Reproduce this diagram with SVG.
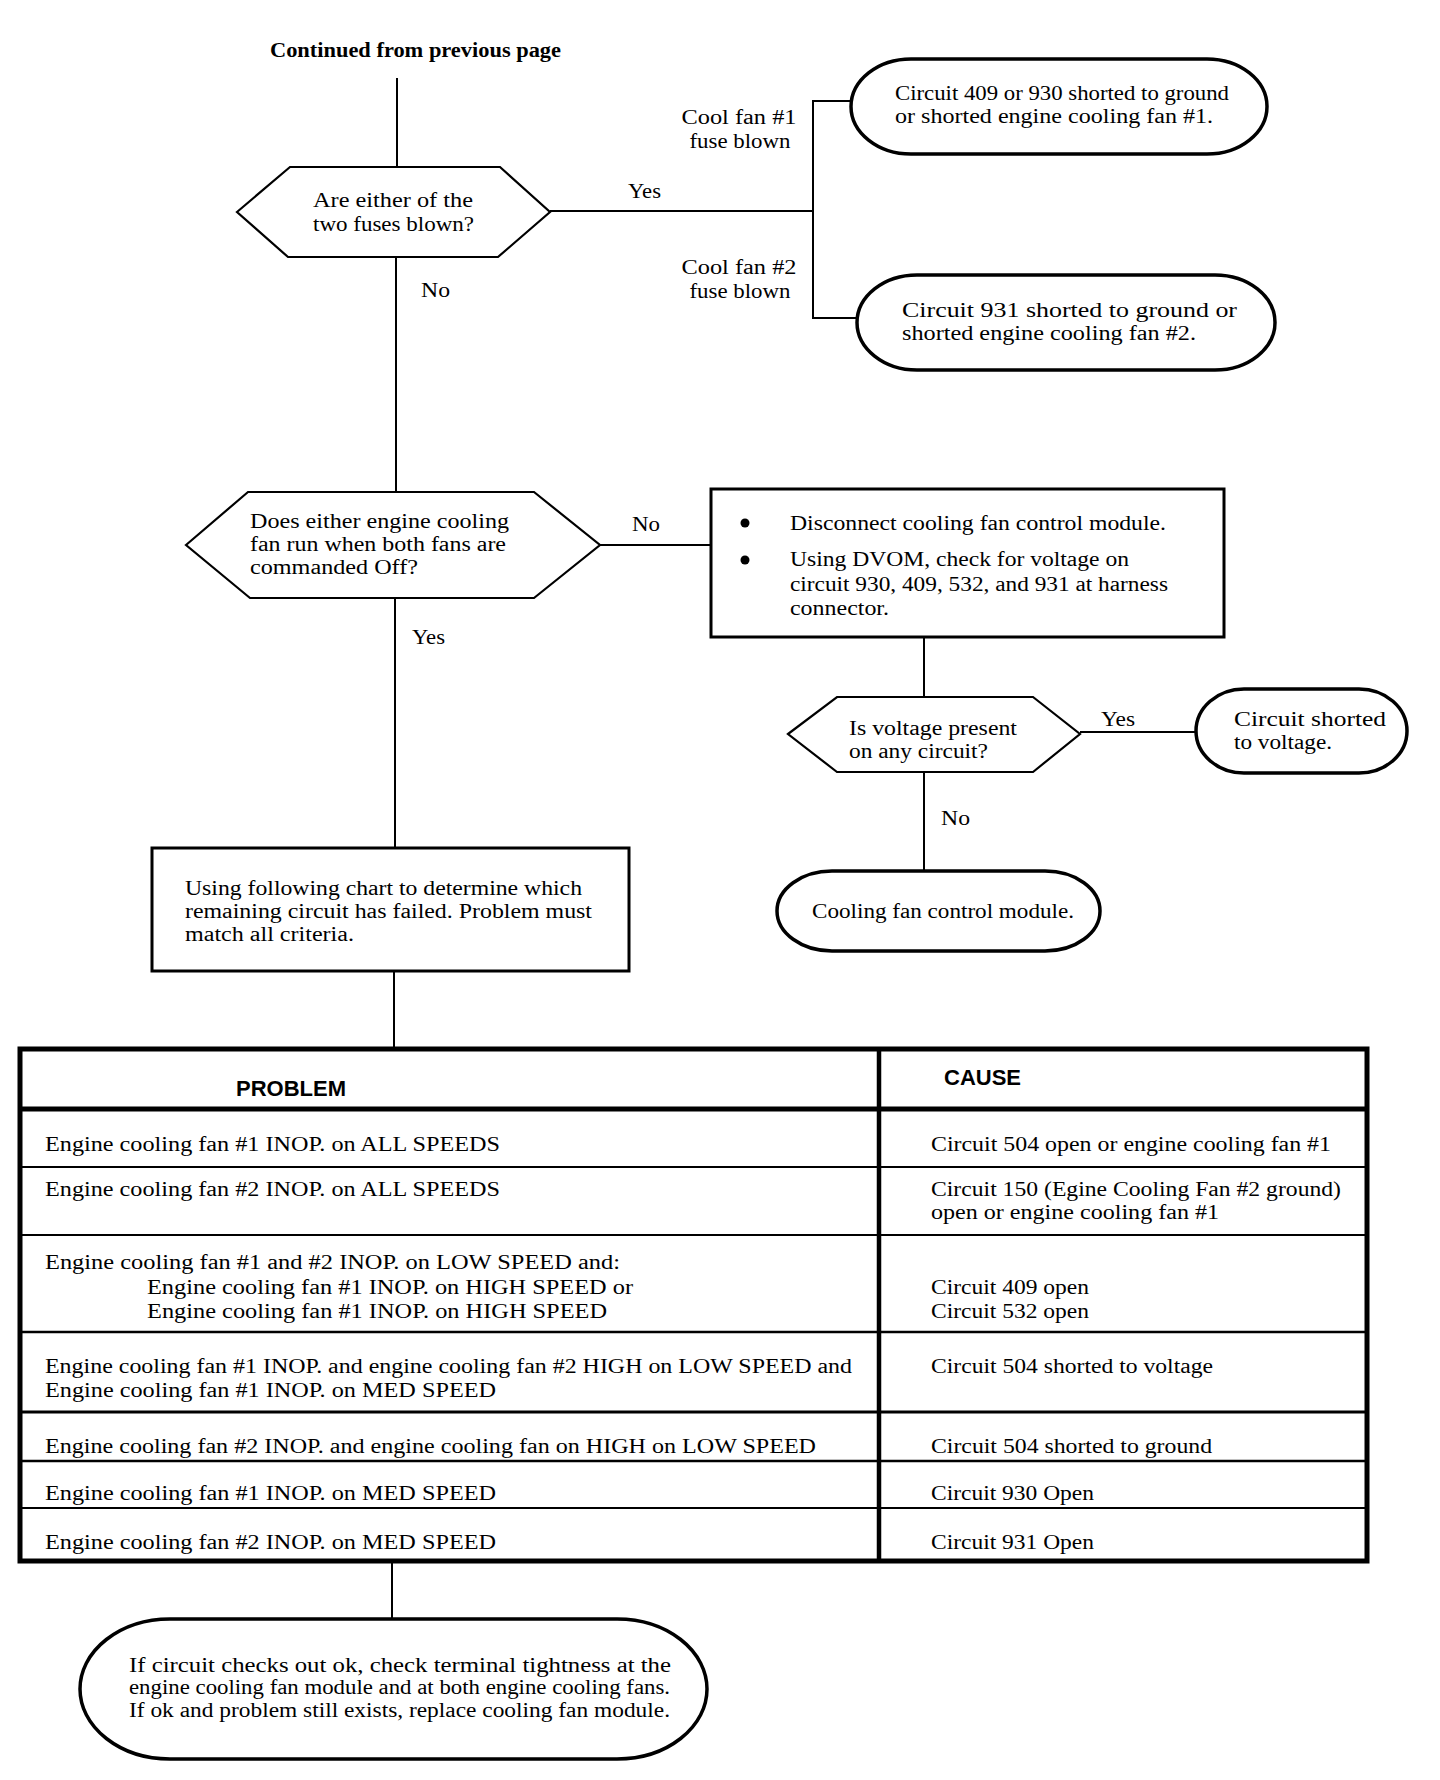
<svg xmlns="http://www.w3.org/2000/svg" width="1440" height="1780" viewBox="0 0 1440 1780">
<style>
  .t { font-family: "Liberation Serif", "Times New Roman", serif; font-size: 20px; fill: #000; }
  .tb { font-family: "Liberation Serif", "Times New Roman", serif; font-size: 20px; font-weight: bold; fill: #000; }
  .hd { font-family: "Liberation Sans", Arial, sans-serif; font-size: 22px; font-weight: bold; fill: #000; }
  .ln { stroke: #000; stroke-width: 2; fill: none; }
  .hex { stroke: #000; stroke-width: 2.2; fill: #fff; stroke-linejoin: miter; }
  .box { stroke: #000; stroke-width: 3; fill: #fff; }
  .oval { stroke: #000; stroke-width: 3.5; fill: #fff; }
  .tbl { stroke: #000; fill: none; }
</style>
<rect x="0" y="0" width="1440" height="1780" fill="#fff"/>

<g id="connectors">
  <line class="ln" x1="397" y1="78" x2="397" y2="167"/>
  <line class="ln" x1="396" y1="257" x2="396" y2="492"/>
  <line class="ln" x1="550" y1="211" x2="813" y2="211"/>
  <polyline class="ln" points="852,101 813,101 813,318 858,318"/>
  <line class="ln" x1="600" y1="545" x2="711" y2="545"/>
  <line class="ln" x1="395" y1="598" x2="395" y2="848"/>
  <line class="ln" x1="924" y1="637" x2="924" y2="697"/>
  <line class="ln" x1="1080" y1="732" x2="1196" y2="732"/>
  <line class="ln" x1="924" y1="772" x2="924" y2="871"/>
  <line class="ln" x1="394" y1="971" x2="394" y2="1049"/>
  <line class="ln" x1="392" y1="1561" x2="392" y2="1619"/>
  <text class="t" x="628" y="198" textLength="33" lengthAdjust="spacingAndGlyphs">Yes</text>
  <text class="t" x="421" y="297" textLength="29" lengthAdjust="spacingAndGlyphs">No</text>
  <text class="t" x="739" y="124" text-anchor="middle" textLength="115" lengthAdjust="spacingAndGlyphs">Cool fan #1</text>
  <text class="t" x="740" y="148" text-anchor="middle" textLength="101" lengthAdjust="spacingAndGlyphs">fuse blown</text>
  <text class="t" x="739" y="274" text-anchor="middle" textLength="115" lengthAdjust="spacingAndGlyphs">Cool fan #2</text>
  <text class="t" x="740" y="298" text-anchor="middle" textLength="101" lengthAdjust="spacingAndGlyphs">fuse blown</text>
  <text class="t" x="632" y="531" textLength="28" lengthAdjust="spacingAndGlyphs">No</text>
  <text class="t" x="412" y="644" textLength="33" lengthAdjust="spacingAndGlyphs">Yes</text>
  <text class="t" x="1101" y="726" textLength="34" lengthAdjust="spacingAndGlyphs">Yes</text>
  <text class="t" x="941" y="825" textLength="29" lengthAdjust="spacingAndGlyphs">No</text>
</g>

<g id="start">
  <text class="tb" x="270" y="57" textLength="291" lengthAdjust="spacingAndGlyphs">Continued from previous page</text>
</g>

<g id="q-fuses">
  <polygon class="hex" points="237,212 290,167 500,167 550,212 498,257 288,257"/>
  <text class="t" x="313" y="207" textLength="160" lengthAdjust="spacingAndGlyphs">Are either of the</text>
  <text class="t" x="313" y="231" textLength="161" lengthAdjust="spacingAndGlyphs">two fuses blown?</text>
</g>

<g id="r-fan1">
  <rect class="oval" x="851" y="59" width="416" height="95" rx="60" ry="47.5"/>
  <text class="t" x="895" y="100" textLength="334" lengthAdjust="spacingAndGlyphs">Circuit 409 or 930 shorted to ground</text>
  <text class="t" x="895" y="123" textLength="318" lengthAdjust="spacingAndGlyphs">or shorted engine cooling fan #1.</text>
</g>

<g id="r-fan2">
  <rect class="oval" x="857" y="275" width="418" height="95" rx="60" ry="47.5"/>
  <text class="t" x="902" y="317" textLength="335" lengthAdjust="spacingAndGlyphs">Circuit 931 shorted to ground or</text>
  <text class="t" x="902" y="340" textLength="294" lengthAdjust="spacingAndGlyphs">shorted engine cooling fan #2.</text>
</g>

<g id="q-run">
  <polygon class="hex" points="186,545 248,492 534,492 600,545 534,598 250,598"/>
  <text class="t" x="250" y="528" textLength="259" lengthAdjust="spacingAndGlyphs">Does either engine cooling</text>
  <text class="t" x="250" y="551" textLength="256" lengthAdjust="spacingAndGlyphs">fan run when both fans are</text>
  <text class="t" x="250" y="574" textLength="168" lengthAdjust="spacingAndGlyphs">commanded Off?</text>
</g>

<g id="step-disconnect">
  <rect class="box" x="711" y="489" width="513" height="148"/>
  <circle cx="745" cy="523" r="4.5" fill="#000"/>
  <circle cx="745" cy="560" r="4.5" fill="#000"/>
  <text class="t" x="790" y="530" textLength="376" lengthAdjust="spacingAndGlyphs">Disconnect cooling fan control module.</text>
  <text class="t" x="790" y="566" textLength="339" lengthAdjust="spacingAndGlyphs">Using DVOM, check for voltage on</text>
  <text class="t" x="790" y="591" textLength="378" lengthAdjust="spacingAndGlyphs">circuit 930, 409, 532, and 931 at harness</text>
  <text class="t" x="790" y="615" textLength="99" lengthAdjust="spacingAndGlyphs">connector.</text>
</g>

<g id="q-voltage">
  <polygon class="hex" points="788,734 837,697 1033,697 1080,734 1033,772 837,772"/>
  <text class="t" x="849" y="735" textLength="168" lengthAdjust="spacingAndGlyphs">Is voltage present</text>
  <text class="t" x="849" y="758" textLength="139" lengthAdjust="spacingAndGlyphs">on any circuit?</text>
</g>

<g id="r-shorted-voltage">
  <rect class="oval" x="1196" y="689" width="211" height="84" rx="48" ry="42"/>
  <text class="t" x="1234" y="726" textLength="152" lengthAdjust="spacingAndGlyphs">Circuit  shorted</text>
  <text class="t" x="1234" y="749" textLength="98" lengthAdjust="spacingAndGlyphs">to voltage.</text>
</g>

<g id="r-module">
  <rect class="oval" x="777" y="871" width="323" height="80" rx="55" ry="40"/>
  <text class="t" x="812" y="918" textLength="262" lengthAdjust="spacingAndGlyphs">Cooling fan control module.</text>
</g>

<g id="step-chart">
  <rect class="box" x="152" y="848" width="477" height="123"/>
  <text class="t" x="185" y="895" textLength="397" lengthAdjust="spacingAndGlyphs">Using following chart to determine which</text>
  <text class="t" x="185" y="918" textLength="407" lengthAdjust="spacingAndGlyphs">remaining circuit has failed. Problem must</text>
  <text class="t" x="185" y="941" textLength="169" lengthAdjust="spacingAndGlyphs">match all criteria.</text>
</g>

<g id="table">
  <rect class="tbl" x="20" y="1049" width="1347" height="512" stroke-width="5"/>
  <line class="tbl" x1="879" y1="1049" x2="879" y2="1561" stroke-width="4.5"/>
  <line class="tbl" x1="20" y1="1109" x2="1367" y2="1109" stroke-width="5"/>
  <line class="tbl" x1="20" y1="1167" x2="1367" y2="1167" stroke-width="2"/>
  <line class="tbl" x1="20" y1="1235" x2="1367" y2="1235" stroke-width="2.2"/>
  <line class="tbl" x1="20" y1="1332" x2="1367" y2="1332" stroke-width="2.5"/>
  <line class="tbl" x1="20" y1="1412" x2="1367" y2="1412" stroke-width="3"/>
  <line class="tbl" x1="20" y1="1461" x2="1367" y2="1461" stroke-width="2.5"/>
  <line class="tbl" x1="20" y1="1508" x2="1367" y2="1508" stroke-width="2"/>
  <text class="hd" x="236" y="1096">PROBLEM</text>
  <text class="hd" x="944" y="1085">CAUSE</text>

  <text class="t" x="45" y="1151" textLength="455" lengthAdjust="spacingAndGlyphs">Engine cooling fan #1 INOP. on ALL SPEEDS</text>
  <text class="t" x="931" y="1151" textLength="400" lengthAdjust="spacingAndGlyphs">Circuit 504 open or engine cooling fan #1</text>

  <text class="t" x="45" y="1196" textLength="455" lengthAdjust="spacingAndGlyphs">Engine cooling fan #2 INOP. on ALL SPEEDS</text>
  <text class="t" x="931" y="1196" textLength="410" lengthAdjust="spacingAndGlyphs">Circuit 150 (Egine Cooling Fan #2 ground)</text>
  <text class="t" x="931" y="1219" textLength="288" lengthAdjust="spacingAndGlyphs">open or engine cooling fan #1</text>

  <text class="t" x="45" y="1269" textLength="575" lengthAdjust="spacingAndGlyphs">Engine cooling fan #1 and #2 INOP. on LOW SPEED and:</text>
  <text class="t" x="147" y="1294" textLength="486" lengthAdjust="spacingAndGlyphs">Engine cooling fan #1 INOP. on HIGH SPEED or</text>
  <text class="t" x="147" y="1318" textLength="460" lengthAdjust="spacingAndGlyphs">Engine cooling fan #1 INOP. on HIGH SPEED</text>
  <text class="t" x="931" y="1294" textLength="158" lengthAdjust="spacingAndGlyphs">Circuit 409 open</text>
  <text class="t" x="931" y="1318" textLength="158" lengthAdjust="spacingAndGlyphs">Circuit 532 open</text>

  <text class="t" x="45" y="1373" textLength="807" lengthAdjust="spacingAndGlyphs">Engine cooling fan #1 INOP. and engine cooling fan #2 HIGH on LOW SPEED and</text>
  <text class="t" x="45" y="1397" textLength="451" lengthAdjust="spacingAndGlyphs">Engine cooling fan #1 INOP. on MED SPEED</text>
  <text class="t" x="931" y="1373" textLength="282" lengthAdjust="spacingAndGlyphs">Circuit 504 shorted to voltage</text>

  <text class="t" x="45" y="1453" textLength="771" lengthAdjust="spacingAndGlyphs">Engine cooling fan #2 INOP. and engine cooling fan on HIGH on LOW SPEED</text>
  <text class="t" x="931" y="1453" textLength="281" lengthAdjust="spacingAndGlyphs">Circuit 504 shorted to ground</text>

  <text class="t" x="45" y="1500" textLength="451" lengthAdjust="spacingAndGlyphs">Engine cooling fan #1 INOP. on MED SPEED</text>
  <text class="t" x="931" y="1500" textLength="163" lengthAdjust="spacingAndGlyphs">Circuit 930 Open</text>

  <text class="t" x="45" y="1549" textLength="451" lengthAdjust="spacingAndGlyphs">Engine cooling fan #2 INOP. on MED SPEED</text>
  <text class="t" x="931" y="1549" textLength="163" lengthAdjust="spacingAndGlyphs">Circuit 931 Open</text>
</g>

<g id="r-final">
  <rect class="oval" x="80" y="1619" width="627" height="140" rx="90" ry="70"/>
  <text class="t" x="129" y="1672" textLength="542" lengthAdjust="spacingAndGlyphs">If circuit checks out ok, check terminal tightness at the</text>
  <text class="t" x="129" y="1694" textLength="541" lengthAdjust="spacingAndGlyphs">engine cooling fan module and at both engine cooling fans.</text>
  <text class="t" x="129" y="1717" textLength="541" lengthAdjust="spacingAndGlyphs">If ok and problem still exists, replace cooling fan module.</text>
</g>
</svg>
